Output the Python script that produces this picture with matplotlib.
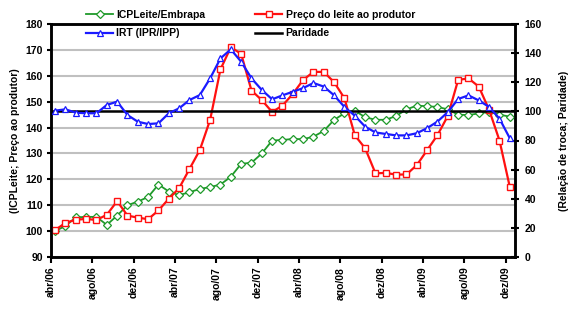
import numpy as np
import matplotlib
matplotlib.use("Agg")
import matplotlib.pyplot as plt

plt.rcParams['font.family'] = ['Liberation Sans', 'DejaVu Sans']
plt.rcParams['font.weight'] = 'bold'

tick_labels = ["abr/06", "ago/06", "dez/06", "abr/07", "ago/07", "dez/07",
               "abr/08", "ago/08", "dez/08", "abr/09", "ago/09", "dez/09"]

# monthly values, abr/06 .. dez/09
icpleite = [100, 102, 105.3, 105.5, 105.5, 102.4, 106, 110, 111.4, 113.2,
            118, 115.3, 113.9, 115, 116.3, 117, 118, 121, 126, 126.4,
            130, 135, 135.2, 135.6, 135.5, 136.5, 138.7, 143, 145.5, 146.5,
            144, 143, 143, 144.5, 147, 148.5, 148.2, 148, 147, 145,
            144.8, 145.5, 146, 145, 144.2]
preco = [100.4, 103.2, 104.4, 104.7, 104.3, 106.3, 111.6, 106, 105.2, 104.6,
         108, 112.5, 116.6, 124, 131.3, 143, 162.5, 171, 168.5, 154.3,
         150.6, 146, 148.5, 153, 158.4, 161.5, 161.5, 157.5, 151.3, 137,
         132, 122.3, 122.5, 121.8, 121.9, 125.5, 131.3, 137.1, 144.5, 158.4,
         159, 155.8, 146.8, 135, 117]
irt = [100.5, 101.4, 99.1, 98.7, 98.7, 104.4, 106.7, 97.5, 92.9, 91.3,
       91.8, 98.7, 102.1, 107.8, 111.2, 122.7, 136.4, 142.6, 134.1, 122.7,
       114.7, 108.3, 111, 113.5, 116, 119.5, 117, 111, 103, 97,
       89.5, 85.5, 84.5, 83.5, 83.5, 85, 88.5, 93, 99.5, 108.5,
       111, 107.5, 103, 95, 81.5]
paridade = 100

months = np.arange(len(preco))
xpos = months + 0.4
tick_pos = np.arange(0, len(preco), 4)

fig = plt.figure(figsize=(5.75, 3.17), dpi=100)
ax = fig.add_axes([51/575, 1-257/317, (515-51)/575, (257-24)/317])
ax2 = ax.twinx()

green = '#1f9a2a'
red = '#ff1010'
blue = '#1a1aff'

ax.set_ylim(90, 180)
ax.set_yticks(np.arange(90, 181, 10))
ax.set_xlim(0, 44.9)
ax.set_xticks(tick_pos)
ax.set_xticklabels(tick_labels, rotation=90, fontsize=7.5, fontweight='bold')
ax.yaxis.grid(True, color='#c0c0c0', linewidth=1.5)
ax.set_axisbelow(True)

ax2.set_ylim(0, 160)
ax2.set_yticks(np.arange(0, 161, 20))

l1, = ax.plot(xpos, icpleite, color=green, lw=1.3, marker='D', ms=4,
              mfc='white', mec=green, mew=0.9, label='ICPLeite/Embrapa', zorder=3)
l2, = ax.plot(xpos, preco, color=red, lw=1.6, marker='s', ms=5,
              mfc='white', mec=red, mew=1.0, label='Preço do leite ao produtor', zorder=5)
l4 = ax2.axhline(paridade, color='black', lw=1.8, label='Paridade', zorder=2)
l3, = ax2.plot(xpos, irt, color=blue, lw=1.6, marker='^', ms=5,
               mfc='white', mec=blue, mew=0.9, label='IRT (IPR/IPP)', zorder=4)

for a in (ax, ax2):
    for s in a.spines.values():
        s.set_linewidth(1.8)
        s.set_color('black')

ax.tick_params(axis='y', labelsize=7.5, length=3, width=1.5, pad=3)
ax.tick_params(axis='x', length=4, width=1.5, pad=3)
ax2.tick_params(axis='y', labelsize=7.5, direction='inout', length=6, width=1.5, pad=4)
for t in ax.get_yticklabels() + ax2.get_yticklabels():
    t.set_fontweight('bold')

ax.set_ylabel('(ICPLeite; Preço ao produtor)', fontsize=7.5, fontweight='bold', labelpad=4)
ax2.set_ylabel('(Relação de troca; Paridade)', fontsize=7.5, fontweight='bold',
               rotation=90, labelpad=12)

fig.legend(handles=[l1, l3, l2, l4], loc='upper left', ncol=2,
           bbox_to_anchor=(84/575, 1-8/317), frameon=False,
           prop={'size': 7.5, 'weight': 'bold'}, handlelength=2.6,
           handletextpad=0.3, columnspacing=4.8, labelspacing=0.8,
           borderaxespad=0, borderpad=0.2)

fig.savefig('out.png', dpi=100)
